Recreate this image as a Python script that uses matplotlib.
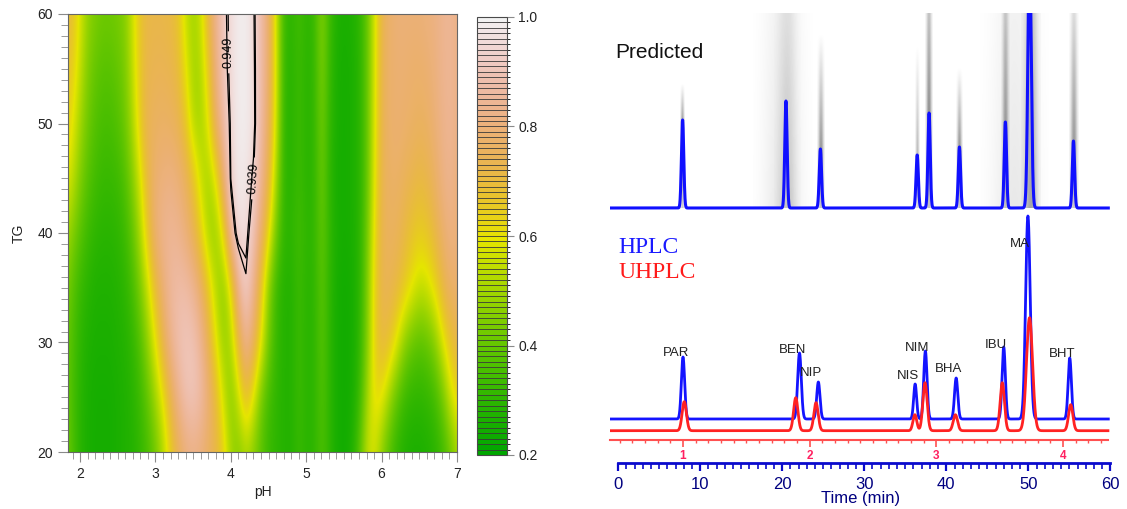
import numpy as np
import matplotlib
matplotlib.use("Agg")
import matplotlib.pyplot as plt
from matplotlib.colors import (ListedColormap, LinearSegmentedColormap,
                               BoundaryNorm, Normalize, hsv_to_rgb)
from matplotlib.cm import ScalarMappable
from matplotlib.ticker import FixedLocator, MultipleLocator

plt.rcParams['font.family'] = ['Liberation Sans', 'DejaVu Sans']

# ---------------------------------------------------------------------------
# Desirability surface D(pH, TG)
# ---------------------------------------------------------------------------
ph_values = np.round(np.arange(1.8, 7.0001, 0.1), 1)
tg_levels = [20, 25, 30, 35, 40, 45, 50, 55, 60]

d_tg20 = [0.44, 0.36, 0.29, 0.26, 0.25, 0.25, 0.25, 0.26, 0.27, 0.28, 0.31, 0.35, 0.42, 0.52, 0.64, 0.74, 0.80, 0.82,
          0.80, 0.76, 0.72, 0.64, 0.50, 0.45, 0.50, 0.45, 0.38, 0.32, 0.30, 0.28, 0.28, 0.32, 0.29, 0.30, 0.36, 0.30,
          0.25, 0.24, 0.27, 0.38, 0.55, 0.57, 0.45, 0.36, 0.30, 0.27, 0.26, 0.26, 0.27, 0.29, 0.33, 0.40, 0.50]
d_tg25 = [0.42, 0.35, 0.29, 0.26, 0.25, 0.25, 0.25, 0.26, 0.27, 0.29, 0.33, 0.40, 0.50, 0.60, 0.74, 0.84, 0.90, 0.91,
          0.88, 0.80, 0.70, 0.56, 0.45, 0.56, 0.70, 0.58, 0.42, 0.34, 0.30, 0.28, 0.28, 0.33, 0.29, 0.30, 0.37, 0.30,
          0.25, 0.24, 0.25, 0.32, 0.50, 0.62, 0.60, 0.48, 0.38, 0.32, 0.30, 0.30, 0.31, 0.34, 0.42, 0.56, 0.64]
d_tg30 = [0.42, 0.36, 0.30, 0.27, 0.26, 0.26, 0.26, 0.27, 0.28, 0.31, 0.37, 0.48, 0.60, 0.74, 0.84, 0.89, 0.91, 0.90,
          0.85, 0.74, 0.60, 0.48, 0.52, 0.72, 0.85, 0.76, 0.60, 0.42, 0.32, 0.28, 0.28, 0.33, 0.29, 0.30, 0.38, 0.30,
          0.25, 0.24, 0.25, 0.30, 0.45, 0.64, 0.72, 0.68, 0.58, 0.46, 0.40, 0.38, 0.40, 0.46, 0.58, 0.68, 0.72]
d_tg35 = [0.45, 0.38, 0.32, 0.29, 0.27, 0.27, 0.27, 0.28, 0.30, 0.35, 0.44, 0.56, 0.70, 0.80, 0.86, 0.88, 0.88, 0.85,
          0.78, 0.66, 0.52, 0.46, 0.60, 0.86, 0.93, 0.84, 0.66, 0.45, 0.32, 0.28, 0.28, 0.33, 0.29, 0.30, 0.39, 0.30,
          0.25, 0.24, 0.25, 0.29, 0.44, 0.64, 0.74, 0.74, 0.71, 0.66, 0.60, 0.55, 0.57, 0.63, 0.72, 0.78, 0.78]
d_tg40 = [0.52, 0.45, 0.38, 0.33, 0.30, 0.29, 0.29, 0.30, 0.33, 0.40, 0.52, 0.68, 0.80, 0.84, 0.85, 0.84, 0.80, 0.74,
          0.64, 0.50, 0.48, 0.62, 0.90, 0.97, 0.965, 0.90, 0.78, 0.62, 0.42, 0.30, 0.30, 0.34, 0.30, 0.31, 0.40, 0.31,
          0.26, 0.25, 0.26, 0.29, 0.42, 0.62, 0.74, 0.76, 0.75, 0.71, 0.67, 0.65, 0.67, 0.72, 0.78, 0.82, 0.80]
d_tg45 = [0.60, 0.55, 0.45, 0.38, 0.34, 0.32, 0.32, 0.33, 0.37, 0.46, 0.58, 0.72, 0.79, 0.81, 0.82, 0.80, 0.76, 0.68,
          0.55, 0.50, 0.60, 0.80, 0.95, 0.985, 0.98, 0.94, 0.85, 0.72, 0.50, 0.30, 0.29, 0.33, 0.29, 0.30, 0.42, 0.30,
          0.25, 0.25, 0.26, 0.29, 0.40, 0.60, 0.74, 0.77, 0.77, 0.75, 0.73, 0.71, 0.73, 0.77, 0.82, 0.84, 0.80]
d_tg50 = [0.66, 0.60, 0.50, 0.42, 0.37, 0.35, 0.35, 0.37, 0.42, 0.52, 0.66, 0.75, 0.76, 0.77, 0.76, 0.74, 0.66, 0.52,
          0.50, 0.60, 0.78, 0.88, 0.955, 0.99, 0.99, 0.965, 0.87, 0.76, 0.56, 0.30, 0.29, 0.33, 0.29, 0.31, 0.43, 0.31,
          0.26, 0.25, 0.26, 0.29, 0.40, 0.59, 0.74, 0.78, 0.79, 0.78, 0.77, 0.76, 0.77, 0.80, 0.83, 0.85, 0.82]
d_tg55 = [0.70, 0.65, 0.55, 0.45, 0.40, 0.38, 0.38, 0.40, 0.44, 0.55, 0.67, 0.73, 0.74, 0.74, 0.73, 0.70, 0.60, 0.50,
          0.52, 0.66, 0.82, 0.91, 0.965, 0.99, 0.99, 0.96, 0.88, 0.78, 0.57, 0.31, 0.29, 0.33, 0.29, 0.31, 0.45, 0.32,
          0.26, 0.25, 0.26, 0.29, 0.40, 0.58, 0.74, 0.78, 0.79, 0.79, 0.78, 0.78, 0.79, 0.81, 0.84, 0.85, 0.82]
d_tg60 = [0.72, 0.68, 0.58, 0.48, 0.44, 0.42, 0.42, 0.43, 0.46, 0.57, 0.68, 0.72, 0.72, 0.72, 0.71, 0.67, 0.55, 0.50,
          0.56, 0.72, 0.84, 0.92, 0.965, 0.99, 0.99, 0.955, 0.88, 0.78, 0.56, 0.32, 0.30, 0.34, 0.30, 0.32, 0.46, 0.33,
          0.27, 0.26, 0.27, 0.30, 0.40, 0.58, 0.74, 0.78, 0.80, 0.80, 0.80, 0.80, 0.81, 0.82, 0.84, 0.85, 0.82]

contour_levels = [0.949, 0.939]

# ---------------------------------------------------------------------------
# Chromatograms
# ---------------------------------------------------------------------------
compounds = ['PAR', 'BEN', 'NIP', 'NIS', 'NIM', 'BHA', 'IBU', 'MA', 'BHT']

pred_rt = [7.85, 20.45, 24.65, 36.45, 37.9, 41.6, 47.2, 50.15, 55.5]
pred_height = [88, 107, 59, 53, 95, 61, 86, 260, 67]
pred_sigma = [0.14, 0.14, 0.14, 0.14, 0.14, 0.14, 0.14, 0.2, 0.14]

hplc_rt = [7.9, 22.1, 24.4, 36.2, 37.45, 41.2, 47.0, 49.95, 55.05]
hplc_height = [62, 66, 37, 35, 68, 41, 72, 203, 61]
hplc_sigma = [0.2, 0.22, 0.2, 0.18, 0.2, 0.2, 0.2, 0.28, 0.2]

uhplc_rt = [1.01, 1.89, 2.05, 2.83, 2.91, 3.15, 3.52, 3.735, 4.06]
uhplc_height = [29, 33, 28, 16, 48, 16, 48, 113, 26]
uhplc_sigma = [0.017, 0.017, 0.017, 0.015, 0.017, 0.017, 0.017, 0.024, 0.017]

# spread of the simulated (predicted) chromatograms
sim_center = [7.85, 20.0, 20.6, 24.65, 36.45, 37.9, 41.6, 48.3, 47.2, 50.3, 55.5]
sim_halfwidth = [0.3, 3.6, 1.6, 0.45, 0.3, 0.45, 0.4, 4.2, 0.5, 1.2, 0.6]
sim_top = [125, 195, 195, 175, 163, 195, 141, 195, 195, 195, 195]
sim_apex = [88, 0, 0, 59, 53, 95, 61, 0, 86, 0, 67]
sim_alpha = [0.38, 0.10, 0.15, 0.42, 0.28, 0.45, 0.42, 0.09, 0.36, 0.32, 0.40]
sim_fade = [0.0, 0.6, 0.5, 0.0, 0.0, 0.55, 0.0, 0.6, 0.55, 0.7, 0.35]

# peak label offsets (points) from each HPLC apex
label_offsets = [(-5, 0.7), (-5, 0), (-5, 4.3), (-5, 3.6), (-5.8, 0), (-5.8, 4.3),
                 (-5.8, -0.7), (-5.8, -22), (-5.8, 0.7)]

# ---------------------------------------------------------------------------
fig = plt.figure(figsize=(11.27, 5.09), dpi=100, facecolor='white')


def terrain_palette(n):
    k = n // 2
    h = np.r_[np.linspace(4 / 12, 2 / 12, k), np.linspace(2 / 12, 0, n - k + 1)[1:]]
    s = np.r_[np.ones(k), np.linspace(1, 0, n - k + 1)[1:]]
    v = np.r_[np.linspace(0.65, 0.9, k), np.linspace(0.9, 0.95, n - k + 1)[1:]]
    return hsv_to_rgb(np.column_stack([h, s, v]))


palette = terrain_palette(80)
smooth_cmap = LinearSegmentedColormap.from_list('terrain80', palette, N=512)
norm = Normalize(0.2, 1.0)

Z = np.array([d_tg20, d_tg25, d_tg30, d_tg35, d_tg40, d_tg45, d_tg50, d_tg55, d_tg60])

ax = fig.add_axes([68 / 1127, 57 / 509, 389 / 1127, 438 / 509])
ax.imshow(Z, origin='lower', cmap=smooth_cmap, norm=norm, aspect='auto',
          extent=[ph_values[0] - 0.05, ph_values[-1] + 0.05, tg_levels[0] - 2.5, tg_levels[-1] + 2.5],
          interpolation='bicubic', interpolation_stage='data')

for lev, pos in zip(contour_levels, [(3.96, 56.5), (4.27, 45.0)]):
    cs = ax.contour(ph_values, tg_levels, Z, levels=[lev], colors='k', linewidths=0.9)
    labels = ax.clabel(cs, fmt='%.3f', manual=[pos], inline=True, fontsize=9, inline_spacing=3)
    for lab in labels:
        # read the labels upwards along the near-vertical contours
        if abs((lab.get_rotation() % 360) - 270) < 30:
            lab.set_rotation(lab.get_rotation() - 180)

ax.set_xlim(1.84, 7.0)
ax.set_ylim(20, 60)
ax.xaxis.set_major_locator(FixedLocator([2, 3, 4, 5, 6, 7]))
ax.xaxis.set_minor_locator(MultipleLocator(0.1))
ax.yaxis.set_major_locator(FixedLocator([20, 30, 40, 50, 60]))
ax.yaxis.set_minor_locator(MultipleLocator(1))
ax.tick_params(which='major', length=7, width=0.8, color='#8a8a8a', labelsize=10,
               labelcolor='#222222', pad=4)
ax.tick_params(which='minor', length=5, width=0.7, color='#9a9a9a')
for sp in ax.spines.values():
    sp.set_color('#666666')
    sp.set_linewidth(0.8)
ax.set_xlabel('pH', fontsize=10, color='#222222', labelpad=3)
ax.set_ylabel('TG', fontsize=10, color='#222222', labelpad=8)

# colour key with one box per 0.01 step
cax = fig.add_axes([477 / 1127, 54 / 509, 30 / 1127, 438 / 509])
bounds = np.linspace(0.2, 1.0, 81)
cb = fig.colorbar(ScalarMappable(norm=BoundaryNorm(bounds, 80), cmap=ListedColormap(palette)),
                  cax=cax, drawedges=True, ticks=[0.2, 0.4, 0.6, 0.8, 1.0])
cb.set_ticklabels(['0.2', '0.4', '0.6', '0.8', '1.0'])
cb.dividers.set_color('#3a3a3a')
cb.dividers.set_linewidth(0.6)
cb.outline.set_edgecolor('#4a4a4a')
cb.outline.set_linewidth(0.8)
cb.ax.tick_params(length=5, width=0.8, color='#8a8a8a', labelsize=10, labelcolor='#222222', pad=3)

# ---------------------------------------------------------------------------
# Right: predicted and measured chromatograms
# ---------------------------------------------------------------------------
pred_base = 255
hplc_base = 44
uhplc_base = 32.3

axr = fig.add_axes([610 / 1127, 46 / 509, 502 / 1127, 450 / 509])
axr.set_xlim(-1.0, 60.2)
axr.set_ylim(0, 450)


def trace(t, rts, heights, sigmas):
    y = np.zeros_like(t)
    for r, h, s in zip(rts, heights, sigmas):
        y += h * np.exp(-0.5 * ((t - r) / s) ** 2)
    return y


# simulated spread behind the prediction
for c, w, top, apex, a, fade in zip(sim_center, sim_halfwidth, sim_top, sim_apex, sim_alpha, sim_fade):
    xs = np.linspace(c - w, c + w, 90)
    ys = np.linspace(0, top, 160)
    hx = np.exp(-0.5 * ((xs - c) / (0.45 * w)) ** 2)
    if apex > 0:
        vy = np.where(ys < apex, 0.55 + 0.45 * ys / apex,
                      1 - (1 - fade) * (ys - apex) / (top - apex))
    else:
        vy = 1 - (1 - fade) * ys / top
    rgba = np.zeros((ys.size, xs.size, 4))
    rgba[..., 3] = np.clip(a * vy[:, None] * hx[None, :], 0, 1)
    axr.imshow(rgba, extent=[c - w, c + w, pred_base, pred_base + top], origin='lower',
               aspect='auto', interpolation='bilinear', zorder=1)

t = np.linspace(-1.0, 59.75, 6000)
axr.plot(t, pred_base + trace(t, pred_rt, pred_height, pred_sigma), color='#1010ff', lw=2.2, zorder=3)
axr.plot(t, hplc_base + trace(t, hplc_rt, hplc_height, hplc_sigma), color='#1414ff', lw=2.0, zorder=3)

for name, r, h, off in zip(compounds, hplc_rt, hplc_height, label_offsets):
    axr.annotate(name, xy=(r, hplc_base + h), xytext=off, textcoords='offset points',
                 ha='center', va='baseline', fontsize=9.5, color='#222222', zorder=5)

axr.text(0.01, 0.912, 'Predicted', transform=axr.transAxes, fontsize=15, color='#111111',
         ha='left', va='center')
axr.text(0.016, 0.478, 'HPLC', transform=axr.transAxes, fontsize=17, color='#1a1aff',
         family='Liberation Serif', ha='left', va='center')
axr.text(0.016, 0.424, 'UHPLC', transform=axr.transAxes, fontsize=17, color='#ff1a1a',
         family='Liberation Serif', ha='left', va='center')

for side in ['top', 'left', 'right']:
    axr.spines[side].set_visible(False)
axr.spines['bottom'].set_bounds(0, 60)
axr.spines['bottom'].set_color('#0a0acc')
axr.spines['bottom'].set_linewidth(2.0)
axr.set_yticks([])
axr.xaxis.set_major_locator(FixedLocator(np.arange(0, 61, 10)))
axr.xaxis.set_minor_locator(FixedLocator(np.arange(0, 61, 1)))
axr.tick_params(axis='x', which='major', length=6, width=1.6, color='#0a0acc',
                labelsize=12, labelcolor='#000080', pad=4)
axr.tick_params(axis='x', which='minor', length=4, width=1.2, color='#0a0acc')
axr.set_xlabel('Time (min)', fontsize=12, color='#000080', labelpad=-1)
axr.patch.set_visible(False)

# UHPLC time scale
axu = axr.twiny()
axu.set_xlim(0.4238, 4.386)
tu = np.linspace(0.424, 4.354, 6000)
axu.plot(tu, uhplc_base + trace(tu, uhplc_rt, uhplc_height, uhplc_sigma), color='#ff2222', lw=2.0, zorder=4)
for side in ['top', 'left', 'right']:
    axu.spines[side].set_visible(False)
axu.spines['bottom'].set_visible(True)
axu.spines['bottom'].set_position(('axes', 23 / 450))
axu.spines['bottom'].set_bounds(0.424, 4.354)
axu.spines['bottom'].set_color('#ff5050')
axu.spines['bottom'].set_linewidth(1.5)
axu.xaxis.set_ticks_position('bottom')
axu.xaxis.set_label_position('bottom')
axu.xaxis.set_major_locator(FixedLocator([1, 2, 3, 4]))
axu.xaxis.set_minor_locator(FixedLocator(np.round(np.arange(0.5, 4.36, 0.1), 1)))
axu.tick_params(axis='x', which='major', length=5, width=1.2, color='#ff5050',
                labelsize=8.5, labelcolor='#ff2060', pad=2)
axu.tick_params(axis='x', which='minor', length=2.5, width=1.0, color='#ff5050')
for lab in axu.get_xticklabels():
    lab.set_fontweight('bold')
axu.set_yticks([])

fig.savefig('out.png', dpi=100, facecolor='white')
